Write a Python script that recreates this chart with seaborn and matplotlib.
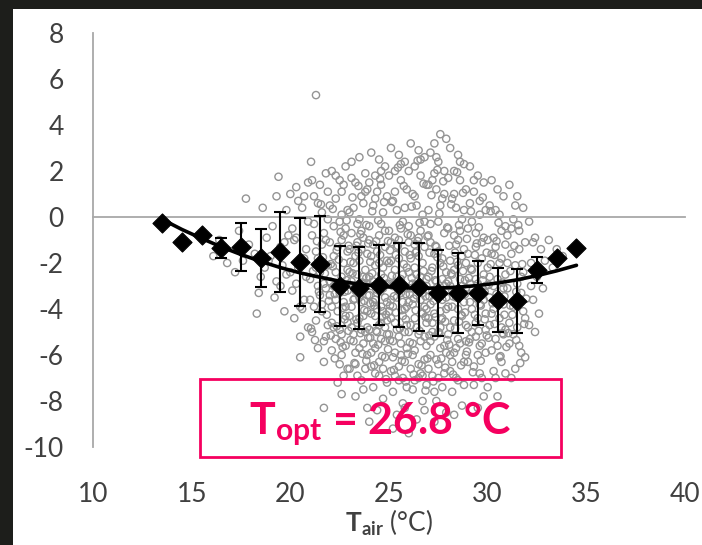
import pandas as pd
import matplotlib
matplotlib.use('Agg')
import matplotlib.pyplot as plt
import seaborn as sns
from matplotlib.patches import Rectangle

# bin means (diamonds) and their standard deviations
bin_t = [13.5, 14.5, 15.5, 16.5, 17.5, 18.5, 19.5, 20.5, 21.5, 22.5, 23.5,
         24.5, 25.5, 26.5, 27.5, 28.5, 29.5, 30.5, 31.5, 32.5, 33.5, 34.5]
bin_mean = [-0.26, -1.09, -0.78, -1.35, -1.30, -1.78, -1.52, -1.96, -2.04, -3.00, -3.09,
            -2.96, -2.96, -3.04, -3.30, -3.30, -3.30, -3.61, -3.65, -2.30, -1.78, -1.35]
bin_sd = [0.0, 0.0, 0.0, 0.43, 1.04, 1.28, 1.74, 1.90, 2.10, 1.74, 1.78,
          1.74, 1.83, 1.90, 1.87, 1.74, 1.39, 1.39, 1.40, 0.57, 0.0, 0.0]

# quadratic trend line
fit_y = [-0.10, -0.54, -0.93, -1.30, -1.63, -1.93, -2.20, -2.43, -2.62, -2.79, -2.92,
         -3.01, -3.07, -3.10, -3.09, -3.05, -2.98, -2.87, -2.73, -2.55, -2.34, -2.10]

# grey cloud of individual observations (T_air, value)
cloud_pts = [
    (16.1, -1.7), (16.4, -1.0), (16.8, -2.0),
    (17.2, -2.4), (17.4, -0.6), (17.75, 0.8), (17.6, -1.9), (17.9, -1.2),
    (18.3, -4.2), (18.6, 0.4), (18.2, -1.6), (18.5, -2.6), (18.8, -0.9), (18.4, -3.3), (18.9, -1.9), (18.7, -2.2),
    (19.4, 1.75), (19.7, -4.1), (19.1, -0.4), (19.3, -2.8), (19.5, -1.3), (19.8, 0.3), (19.2, -3.5),
    (19.6, -2.1), (19.9, -0.8), (19.5, -3.0), (19.0, -1.7), (19.8, -2.5), (19.3, 0.9), (19.7, -1.1),
    (20.0, 1.0), (20.3, 1.3), (20.9, 1.5), (20.5, -6.1), (20.1, -0.5), (20.4, -2.2), (20.7, -3.6), (20.2, -4.4),
    (20.6, 0.4), (20.8, -1.4), (20.3, -2.9), (20.5, -5.2), (20.9, -0.2), (20.1, -3.2), (20.7, -1.8), (20.4, 0.7),
    (20.6, -4.0), (20.8, -2.6), (20.2, -1.0), (20.5, -3.9), (20.9, -4.8), (20.3, -0.9), (20.7, 0.9), (20.0, -2.4),
    (21.3, 5.3), (21.05, 2.4), (21.7, -6.3), (21.1, 1.6), (21.4, 0.6), (21.8, 1.9), (21.2, -0.3), (21.6, -1.2),
    (21.9, -2.1), (21.5, -3.4), (21.3, -4.5), (21.8, -5.2), (21.0, -2.7), (21.4, -1.8), (21.7, -0.7), (21.2, -3.9),
    (21.6, 0.2), (21.9, 1.1), (21.1, -5.0), (21.5, -2.4), (21.8, -3.1), (21.3, -1.5), (21.6, -4.1), (21.9, -0.1),
    (21.4, -5.7), (21.2, 0.9), (21.7, -2.9), (21.5, 1.4), (21.0, -3.6), (21.9, -4.7), (21.3, -2.2), (21.6, -3.8),
    (21.8, -1.0), (21.1, -0.8), (21.4, -3.0), (21.7, -5.4), (21.7, -8.3),
    (21.15, -2.35), (21.45, -3.25), (21.85, -4.25), (21.35, -1.05), (21.75, -2.45), (21.05, -4.85),
    (21.55, 0.55), (21.95, -3.65), (21.25, -5.35), (21.65, -1.75),
    (22.1, 2.0), (22.5, 1.6), (22.8, 2.2), (22.3, 0.8), (22.6, 1.1), (22.9, 0.3), (22.2, -0.4), (22.4, -1.3),
    (22.7, -2.0), (22.0, -2.8), (22.5, -3.3), (22.8, -3.9), (22.1, -4.6), (22.3, -5.3), (22.6, -6.0), (22.9, -6.6),
    (22.4, -7.2), (22.2, -1.7), (22.7, -0.8), (22.9, -1.5), (22.0, 0.5), (22.6, -2.6), (22.3, -3.6), (22.8, -4.3),
    (22.1, -5.8), (22.5, -4.9), (22.9, -2.3), (22.2, -3.0), (22.7, -3.7), (22.4, -4.1), (22.6, -5.1), (22.8, -5.6),
    (22.0, -1.1), (22.3, -2.4), (22.5, -0.2), (22.7, 1.4), (22.9, -3.2), (22.1, -3.9), (22.4, -2.9), (22.6, -1.0),
    (22.8, -0.5), (22.2, -4.8), (22.5, -6.4), (22.9, -4.6), (22.3, 1.8), (22.7, -6.9), (22.0, -3.4), (22.6, 0.1),
    (22.6, -7.7),
    (22.15, -2.15), (22.45, -3.05), (22.75, -4.45), (22.35, -1.45), (22.85, -2.75), (22.05, -5.15),
    (22.55, -0.65), (22.95, -4.95), (22.25, -3.35), (22.65, -5.65), (22.15, 0.35), (22.45, -1.85),
    (22.75, -3.25), (22.35, -4.75), (22.85, -0.15), (22.05, -2.05), (22.55, -5.45), (22.95, -1.25),
    (22.25, -6.15), (22.65, -3.95),
    (23.1, 2.4), (23.5, 2.6), (23.8, 1.9), (23.3, 1.5), (23.6, 0.9), (23.9, 1.2), (23.2, 0.4), (23.4, -0.3),
    (23.7, -0.9), (23.0, -1.4), (23.5, -1.9), (23.8, -2.3), (23.1, -2.8), (23.3, -3.2), (23.6, -3.7), (23.9, -4.1),
    (23.4, -4.6), (23.2, -5.1), (23.7, -5.5), (23.9, -6.0), (23.0, -6.6), (23.6, -7.1), (23.3, -7.8), (23.8, -3.0),
    (23.1, -3.9), (23.5, -4.4), (23.2, -2.0), (23.7, -2.6), (23.4, -1.1), (23.9, -1.6), (23.0, 0.2), (23.6, -0.6),
    (23.3, -5.9), (23.8, -5.0), (23.1, -4.8), (23.5, -3.5), (23.9, -2.9), (23.2, -3.6), (23.7, -4.3), (23.4, -2.5),
    (23.6, -1.4), (23.0, -4.3), (23.8, -6.6), (23.3, -6.4), (23.5, -5.7), (23.1, -0.7), (23.7, 0.6), (23.9, -3.4),
    (23.2, -5.4), (23.4, -6.9), (23.6, -4.9), (23.8, 1.1), (23.0, -2.4), (23.5, -0.1), (23.3, -1.7), (23.7, -3.2),
    (23.9, -4.8), (23.1, 1.7), (23.7, -7.5), (23.9, -8.3),
    (23.15, -2.45), (23.45, -3.15), (23.75, -4.05), (23.35, -1.25), (23.85, -2.65), (23.05, -5.35),
    (23.55, -0.75), (23.95, -5.25), (23.25, -3.55), (23.65, -5.95), (23.15, 0.85), (23.45, -1.55),
    (23.75, -3.65), (23.35, -4.45), (23.85, -0.35), (23.05, -1.95), (23.55, -5.05), (23.95, -1.15),
    (23.25, -6.35), (23.65, -2.85), (23.45, 1.35), (23.85, -6.25),
    (24.1, 2.8), (24.5, 2.5), (24.8, 2.2), (24.3, 1.8), (24.6, 1.4), (24.9, 0.9), (24.2, 0.5), (24.4, 1.1),
    (24.7, 0.2), (24.0, -0.4), (24.5, -0.8), (24.8, -1.3), (24.1, -1.7), (24.3, -2.1), (24.6, -2.5), (24.9, -2.9),
    (24.4, -3.3), (24.2, -3.7), (24.7, -4.1), (24.9, -4.5), (24.0, -4.9), (24.6, -5.3), (24.3, -5.7), (24.8, -6.1),
    (24.1, -6.5), (24.5, -6.9), (24.2, -7.4), (24.7, -7.9), (24.4, -8.4), (24.9, -7.2), (24.0, -2.6), (24.6, -3.9),
    (24.3, -4.3), (24.8, -3.5), (24.1, -3.0), (24.5, -4.7), (24.9, -5.1), (24.2, -5.5), (24.7, -2.2), (24.4, -1.5),
    (24.0, -1.0), (24.6, -0.3), (24.3, 0.8), (24.8, -0.6), (24.1, -5.9), (24.5, -6.3), (24.9, -1.9), (24.2, -2.8),
    (24.7, -3.1), (24.4, -4.0), (24.0, -3.4), (24.6, -4.6), (24.3, -6.8), (24.8, -5.4), (24.1, -4.2), (24.5, -2.0),
    (24.9, -3.7), (24.2, -1.2), (24.7, -6.6), (24.4, -5.0), (24.0, 1.5), (24.6, 2.0), (24.3, -3.6), (24.8, -4.8),
    (24.0, -8.9),
    (24.15, -2.45), (24.55, -3.25), (24.85, -4.25), (24.35, -1.05), (24.75, -2.65), (24.05, -5.25),
    (24.45, -0.15), (24.95, -5.75), (24.25, -3.85), (24.65, -6.05), (24.15, 0.25), (24.55, -1.65),
    (24.85, -2.95), (24.35, -4.95), (24.75, 0.65), (24.05, -1.95), (24.45, -5.55), (24.95, -1.05),
    (24.25, -6.45), (24.65, -4.35), (24.55, 1.65), (24.85, -7.05), (24.35, -3.15), (24.05, -3.75),
    (25.1, 3.0), (25.5, 2.7), (25.8, 2.4), (25.3, 2.0), (25.6, 1.6), (25.9, 1.2), (25.2, 0.7), (25.4, 0.3),
    (25.7, -0.2), (25.0, -0.6), (25.5, -1.0), (25.8, -1.5), (25.1, -1.9), (25.3, -2.3), (25.6, -2.7), (25.9, -3.1),
    (25.4, -3.5), (25.2, -3.9), (25.7, -4.3), (25.9, -4.7), (25.0, -5.1), (25.6, -5.5), (25.3, -5.9), (25.8, -6.3),
    (25.1, -6.7), (25.5, -7.1), (25.2, -7.6), (25.7, -8.1), (25.4, -8.6), (25.9, -7.4), (25.0, -2.0), (25.6, -3.3),
    (25.3, -4.6), (25.8, -4.0), (25.1, -3.6), (25.5, -5.2), (25.9, -5.7), (25.2, -6.1), (25.7, -2.5), (25.4, -1.3),
    (25.0, -2.9), (25.6, -0.5), (25.3, 1.1), (25.8, 0.4), (25.1, -4.4), (25.5, -6.5), (25.9, -2.2), (25.2, -3.0),
    (25.7, -3.7), (25.4, -4.9), (25.0, -4.1), (25.6, -6.0), (25.3, -6.9), (25.8, -5.0), (25.1, -1.1), (25.5, -1.8),
    (25.9, -3.9), (25.2, -5.4), (25.7, -7.0), (25.4, -2.6), (25.0, 1.8), (25.6, 2.3), (25.3, -0.9), (25.8, -8.3),
    (25.2, -9.2),
    (25.15, -2.55), (25.45, -3.15), (25.85, -4.45), (25.35, -1.65), (25.75, -2.05), (25.05, -5.35),
    (25.55, -0.35), (25.95, -5.95), (25.25, -3.45), (25.65, -6.25), (25.15, 0.65), (25.45, -1.25),
    (25.85, -3.35), (25.35, -4.15), (25.75, 1.35), (25.05, -1.45), (25.55, -4.85), (25.95, -0.75),
    (25.25, -6.65), (25.65, -4.05), (25.45, 2.15), (25.85, -7.15), (25.35, -2.85), (25.05, -3.85),
    (26.1, 3.2), (26.5, 2.9), (26.8, 2.6), (26.3, 2.2), (26.6, 1.8), (26.9, 1.4), (26.2, 1.0), (26.4, 0.5),
    (26.7, 0.1), (26.0, -0.4), (26.5, -0.9), (26.8, -1.3), (26.1, -1.8), (26.3, -2.2), (26.6, -2.6), (26.9, -3.0),
    (26.4, -3.4), (26.2, -3.8), (26.7, -4.2), (26.9, -4.6), (26.0, -5.0), (26.6, -5.4), (26.3, -5.8), (26.8, -6.2),
    (26.1, -6.6), (26.5, -7.0), (26.2, -7.5), (26.7, -8.0), (26.4, -8.8), (26.9, -7.3), (26.0, -2.4), (26.6, -3.6),
    (26.3, -4.4), (26.8, -3.9), (26.1, -3.1), (26.5, -5.1), (26.9, -5.6), (26.2, -6.0), (26.7, -2.0), (26.4, -1.5),
    (26.0, -1.1), (26.6, -0.6), (26.3, 0.9), (26.8, -0.2), (26.1, -4.7), (26.5, -6.4), (26.9, -2.7), (26.2, -2.9),
    (26.7, -3.3), (26.4, -4.8), (26.0, -3.7), (26.6, -6.8), (26.3, -7.1), (26.8, -5.2), (26.1, -0.8), (26.5, -1.7),
    (26.9, -4.0), (26.2, -5.5), (26.7, -6.9), (26.4, -2.5), (26.0, 2.0), (26.6, 2.5), (26.3, -1.2), (26.8, -8.4),
    (26.0, -9.4),
    (26.15, -2.65), (26.45, -3.15), (26.85, -4.35), (26.35, -1.55), (26.75, -2.35), (26.05, -5.45),
    (26.55, -0.25), (26.95, -6.15), (26.25, -3.55), (26.65, -6.45), (26.15, 0.45), (26.45, -1.05),
    (26.85, -3.45), (26.35, -4.05), (26.75, 1.45), (26.05, -1.65), (26.55, -4.95), (26.95, -0.85),
    (26.25, -6.85), (26.65, -4.15), (26.45, 2.45), (26.85, -7.55), (26.35, -2.95), (26.05, -3.35),
    (27.6, 3.6), (27.3, 3.2), (27.9, 3.4), (27.1, 2.8), (27.5, 2.4), (27.8, 2.0), (27.2, 1.6), (27.4, 1.2),
    (27.7, 0.8), (27.0, 0.3), (27.5, -0.2), (27.8, -0.7), (27.1, -1.1), (27.3, -1.6), (27.6, -2.0), (27.9, -2.4),
    (27.4, -2.8), (27.2, -3.2), (27.7, -3.6), (27.9, -4.0), (27.0, -4.4), (27.6, -4.8), (27.3, -5.2), (27.8, -5.6),
    (27.1, -6.0), (27.5, -6.4), (27.2, -6.9), (27.7, -7.4), (27.4, -8.0), (27.9, -8.5), (27.0, -2.6), (27.6, -3.4),
    (27.3, -4.2), (27.8, -3.0), (27.1, -3.8), (27.5, -5.0), (27.9, -5.9), (27.2, -4.6), (27.7, -1.8), (27.4, -1.3),
    (27.0, -0.8), (27.6, 0.5), (27.3, 1.9), (27.8, 1.0), (27.1, -5.4), (27.5, -7.0), (27.9, -2.9), (27.2, -2.2),
    (27.7, -4.4), (27.4, -6.2), (27.0, -6.6), (27.6, -5.7), (27.3, -7.6), (27.8, -6.8), (27.1, -0.3), (27.5, -1.5),
    (27.9, -3.5), (27.2, -5.0), (27.7, -2.7), (27.4, 2.6), (27.0, 1.4), (27.6, -4.1), (27.3, -8.9),
    (27.15, -2.35), (27.45, -3.05), (27.85, -4.55), (27.35, -1.25), (27.75, -2.15), (27.05, -5.15),
    (27.55, 0.15), (27.95, -5.35), (27.25, -3.65), (27.65, -6.15), (27.15, 0.95), (27.45, -1.75),
    (27.85, -3.25), (27.35, -4.35), (27.75, 1.55), (27.05, -1.55), (27.55, -5.05), (27.95, -0.45),
    (27.25, -7.15), (27.65, -4.45), (27.45, 2.05), (27.85, -6.55), (27.35, -2.75), (27.05, -3.45),
    (28.1, 3.0), (28.5, 2.7), (28.8, 2.3), (28.3, 2.0), (28.6, 1.6), (28.9, 1.2), (28.2, 0.8), (28.4, 0.4),
    (28.7, -0.1), (28.0, -0.5), (28.5, -1.0), (28.8, -1.4), (28.1, -1.9), (28.3, -2.3), (28.6, -2.7), (28.9, -3.1),
    (28.4, -3.5), (28.2, -3.9), (28.7, -4.3), (28.9, -4.7), (28.0, -5.1), (28.6, -5.5), (28.3, -5.9), (28.8, -6.3),
    (28.1, -6.7), (28.5, -7.1), (28.2, -7.6), (28.7, -8.2), (28.4, -7.0), (28.9, -6.0), (28.0, -2.8), (28.6, -3.3),
    (28.3, -4.5), (28.8, -3.7), (28.1, -3.0), (28.5, -5.3), (28.9, -2.0), (28.2, -6.3), (28.7, -1.7), (28.4, -1.2),
    (28.0, -3.9), (28.6, -0.6), (28.3, 1.0), (28.8, 0.3), (28.1, -4.8), (28.5, -4.0), (28.9, -5.4), (28.2, -2.5),
    (28.7, -3.0), (28.4, -5.7), (28.0, 1.7), (28.6, 2.4), (28.3, -0.8), (28.8, -7.3), (28.5, -2.1), (28.1, -6.0),
    (28.3, -8.6),
    (28.15, -2.45), (28.45, -3.15), (28.85, -4.15), (28.35, -1.55), (28.75, -2.35), (28.05, -5.55),
    (28.55, -0.35), (28.95, -5.85), (28.25, -3.45), (28.65, -6.45), (28.15, 0.55), (28.45, -1.95),
    (28.85, -3.35), (28.35, -4.85), (28.75, 1.05), (28.05, -1.25), (28.55, -4.55), (28.95, -0.95),
    (28.25, -6.85), (28.65, -4.25), (28.45, 1.95), (28.85, -2.75),
    (29.1, 2.2), (29.5, 1.8), (29.8, 1.5), (29.3, 1.1), (29.6, 0.7), (29.9, 0.3), (29.2, -0.2), (29.4, -0.7),
    (29.7, -1.1), (29.0, -1.6), (29.5, -2.0), (29.8, -2.5), (29.1, -2.9), (29.3, -3.3), (29.6, -3.8), (29.9, -4.2),
    (29.4, -4.6), (29.2, -5.0), (29.7, -5.5), (29.9, -5.9), (29.0, -6.3), (29.6, -6.8), (29.3, -7.3), (29.8, -7.8),
    (29.1, -3.7), (29.5, -4.4), (29.9, -3.0), (29.2, -2.3), (29.7, -1.8), (29.4, -1.3), (29.0, -0.5), (29.6, 0.1),
    (29.3, 1.6), (29.8, -0.9), (29.1, -5.3), (29.5, -6.0), (29.9, -4.9), (29.2, -4.0), (29.7, -3.4), (29.4, -2.7),
    (29.0, -4.8), (29.6, -5.6), (29.3, -6.5), (29.8, -3.6), (29.1, 0.6), (29.5, -2.9), (29.7, -7.0), (29.4, -5.2),
    (29.5, -8.3),
    (29.15, -2.25), (29.45, -3.55), (29.85, -4.45), (29.35, -1.65), (29.75, -2.75), (29.05, -5.45),
    (29.55, -0.45), (29.95, -5.15), (29.25, -3.15), (29.65, -6.25), (29.15, 0.25), (29.45, -1.15),
    (29.85, -3.25), (29.35, -4.25), (29.75, 0.85), (29.05, -2.65), (29.55, -4.95), (29.95, -1.55),
    (29.25, -6.75), (29.65, -3.85),
    (30.2, 1.6), (30.5, 1.2), (30.8, 0.9), (30.1, 0.5), (30.6, 0.1), (30.9, -0.4), (30.3, -0.9), (30.4, -1.3),
    (30.7, -1.8), (30.0, -2.2), (30.5, -2.7), (30.8, -3.1), (30.1, -3.5), (30.3, -4.0), (30.6, -4.4), (30.9, -4.9),
    (30.4, -5.3), (30.2, -5.8), (30.7, -6.3), (30.9, -6.8), (30.0, -7.4), (30.6, -2.0), (30.3, -3.0), (30.8, -3.8),
    (30.1, -4.7), (30.5, -5.6), (30.9, -2.5), (30.2, -1.6), (30.7, -0.6), (30.4, 0.3), (30.0, -1.0), (30.6, -6.1),
    (30.3, -6.7), (30.8, -5.1), (30.1, -2.6), (30.5, -3.6), (30.9, -1.2), (30.2, -4.2), (30.7, -4.8), (30.4, -7.0),
    (30.5, -7.8),
    (30.15, -2.05), (30.45, -3.35), (30.85, -4.25), (30.35, -1.65), (30.75, -2.85), (30.05, -5.25),
    (30.55, -0.25), (30.95, -5.65), (30.25, -3.75), (30.65, -6.05), (30.15, 0.25), (30.45, -1.05),
    (30.85, -3.45), (30.35, -4.65), (30.75, -5.05), (30.05, -2.95),
    (31.1, 1.4), (31.5, 0.9), (31.8, 0.4), (31.3, -0.1), (31.6, -0.6), (31.9, -1.1), (31.2, -1.6), (31.4, -2.1),
    (31.7, -2.6), (31.0, -3.1), (31.5, -3.6), (31.8, -4.1), (31.1, -4.6), (31.3, -5.1), (31.6, -5.6), (31.9, -6.1),
    (31.4, -6.6), (31.2, -7.0), (31.7, -3.3), (31.0, -2.0), (31.5, -4.8), (31.8, -2.4), (31.3, -3.9), (31.6, -1.4),
    (31.1, -5.5), (31.9, -4.4), (31.4, 0.5), (31.2, -0.5), (31.7, -5.9), (31.5, -2.9), (31.0, -0.8),
    (31.15, -2.35), (31.45, -3.25), (31.85, -4.65), (31.35, -1.25), (31.75, -2.05), (31.05, -5.05),
    (31.55, -0.35), (31.95, -3.55), (31.25, -4.25), (31.65, -6.35), (31.15, -3.85), (31.45, -5.35),
    (32.1, -0.2), (32.4, -0.9), (32.7, -1.4), (32.2, -2.0), (32.5, -2.6), (32.8, -3.1), (32.3, -3.6), (32.6, -4.2),
    (32.1, -4.7), (32.4, -5.0), (32.9, -1.9), (32.2, -3.0), (32.6, -2.3), (32.3, -1.1),
    (33.1, -1.0), (33.5, -1.4), (33.3, -2.2), (33.8, -1.7),
]

x_ticks = [10, 15, 20, 25, 30, 35, 40]
y_ticks = [-10, -8, -6, -4, -2, 0, 2, 4, 6, 8]

sns.set_style('white')
plt.rcParams['font.family'] = ['Lato', 'DejaVu Sans']
plt.rcParams['axes.unicode_minus'] = False
plt.rcParams['mathtext.fontset'] = 'custom'
plt.rcParams['mathtext.rm'] = 'Lato'
plt.rcParams['mathtext.bf'] = 'Lato:bold'

W, H = 702, 545
fig = plt.figure(figsize=(W / 100, H / 100), dpi=100, facecolor='#1d1e1b')
fig.add_artist(Rectangle((13 / W, 0), 1, (H - 9) / H, transform=fig.transFigure,
                         facecolor='white', edgecolor='none', zorder=0))
ax = fig.add_axes([93 / W, 98 / H, 592 / W, 414 / H])
ax.set_facecolor('white')

cloud = pd.DataFrame(cloud_pts, columns=['t', 'y'])
sns.scatterplot(data=cloud, x='t', y='y', ax=ax, marker='o', s=27,
                facecolor='none', edgecolor='#949494', linewidth=1.0, zorder=1)

ax.errorbar(bin_t, bin_mean, yerr=bin_sd, fmt='none', ecolor='black',
            elinewidth=1.5, capsize=4, capthick=1.5, zorder=3)
sns.scatterplot(x=bin_t, y=bin_mean, ax=ax, marker='D', s=95, color='black',
                edgecolor='black', zorder=4)
sns.lineplot(x=bin_t, y=fit_y, ax=ax, color='black', linewidth=2.6,
             estimator=None, sort=False, zorder=5)

ax.set_xlim(10, 40)
ax.set_ylim(-10, 8)
ax.set_xlabel('')
ax.set_ylabel('')
ax.spines['top'].set_visible(False)
ax.spines['right'].set_visible(False)
ax.spines['bottom'].set_position(('data', 0))
for s in ['left', 'bottom']:
    ax.spines[s].set_color('#a8a8a8')
    ax.spines[s].set_linewidth(1.3)
ax.set_xticks(x_ticks)
ax.set_yticks(y_ticks)
ax.tick_params(axis='x', direction='out', length=6, width=1.2, color='#a8a8a8',
               labelbottom=False)
ax.tick_params(axis='y', direction='out', length=6, width=1.2, color='#a8a8a8',
               labelsize=19, labelcolor='#404040', pad=15)

# x tick labels sit below the plot, Excel style
sec = ax.secondary_xaxis(0)
sec.set_xticks(x_ticks)
sec.spines['bottom'].set_visible(False)
sec.tick_params(length=0, labelsize=19, labelcolor='#404040', pad=25)

fig.text(389 / W, (H - 523) / H, r'$\mathbf{T_{air}}$ (°C)', ha='center', va='center',
         fontsize=19, color='#404040')

pink = '#f5005f'
fig.add_artist(Rectangle((200 / W, (H - 457) / H), 361 / W, 78 / H,
                         transform=fig.transFigure, facecolor='none',
                         edgecolor=pink, linewidth=2, zorder=6))
fig.text(380 / W, (H - 434) / H, r'$\mathbf{T_{opt}}$ = 26.8 °C', ha='center',
         va='baseline', fontsize=31, fontweight='bold', color=pink, zorder=7)

fig.savefig('out.png', dpi=100, facecolor=fig.get_facecolor())
